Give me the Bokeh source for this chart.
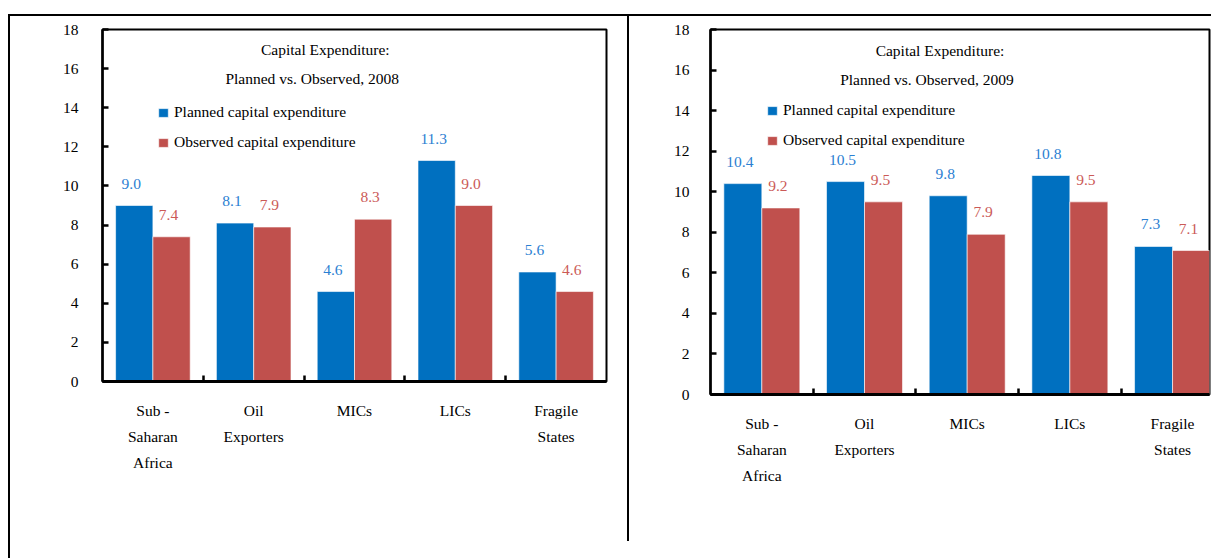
import numpy as np
from bokeh.plotting import figure
from bokeh.models import (ColumnDataSource, Range1d, FixedTicker, Legend, LegendItem,
                          Label, Div)
from bokeh.layouts import column, row
from bokeh.core.properties import value
from bokeh.embed import file_html
from bokeh.resources import INLINE

# ---------------- data ----------------
categories = ["Sub -\nSaharan\nAfrica", "Oil\nExporters", "MICs", "LICs", "Fragile\nStates"]
planned_2008 = [9.0, 8.1, 4.6, 11.3, 5.6]
observed_2008 = [7.4, 7.9, 8.3, 9.0, 4.6]
planned_2009 = [10.4, 10.5, 9.8, 10.8, 7.3]
observed_2009 = [9.2, 9.5, 7.9, 9.5, 7.1]
y_ticks = [0, 2, 4, 6, 8, 10, 12, 14, 16, 18]
series_names = ["Planned capital expenditure", "Observed capital expenditure"]
title_line1 = "Capital Expenditure:"
title_2008 = "Planned vs. Observed, 2008"
title_2009 = "Planned vs. Observed, 2009"

FONT_NAME = "Liberation Serif"
FONT = value(FONT_NAME)
FS = "15.5px"
BLUE = "#0070C0"
RED = "#C0504D"
BLUE_TXT = "#2b80d2"
RED_TXT = "#cb5a57"
BAR_W = 0.37


def make_panel(planned, observed, title2, width, height, mb_left, mb_right, mb_bottom,
               x_end, standoff, legend_loc, t1, t2):
    n = len(categories)
    centers = np.arange(n) + 0.5
    p = figure(width=width, height=height, x_range=Range1d(0, x_end), y_range=Range1d(0, 18),
               output_backend="svg", toolbar_location=None,
               min_border_left=mb_left, min_border_right=mb_right,
               min_border_top=13, min_border_bottom=mb_bottom,
               outline_line_color="black", outline_line_width=2,
               background_fill_color="white", border_fill_color="white")
    p.grid.visible = False

    src = ColumnDataSource(dict(
        xb=centers - BAR_W / 2, xr=centers + BAR_W / 2,
        planned=planned, observed=observed,
        tp=[f"{v:.1f}" for v in planned], to=[f"{v:.1f}" for v in observed]))
    rb = p.vbar(x="xb", top="planned", width=BAR_W, source=src, fill_color=BLUE,
                line_color="white", line_width=0.6)
    rr = p.vbar(x="xr", top="observed", width=BAR_W, source=src, fill_color=RED,
                line_color="white", line_width=0.6)
    p.text(x="xb", y="planned", text="tp", source=src, text_align="center",
           text_baseline="middle", y_offset=-22, x_offset=-3, text_font=FONT,
           text_font_size=FS, text_color=BLUE_TXT)
    p.text(x="xr", y="observed", text="to", source=src, text_align="center",
           text_baseline="middle", y_offset=-22, x_offset=-3, text_font=FONT,
           text_font_size=FS, text_color=RED_TXT)

    # y axis
    ya = p.yaxis[0]
    ya.ticker = FixedTicker(ticks=y_ticks, minor_ticks=[])
    ya.major_tick_in = 6
    ya.major_tick_out = 0
    ya.major_tick_line_width = 2.5
    ya.axis_line_width = 2.5
    ya.major_label_standoff = standoff
    ya.major_label_text_font = FONT_NAME
    ya.major_label_text_font_size = FS
    ya.major_label_text_color = "black"

    # x axis: category labels at centers, boundary ticks as minor ticks
    xa = p.xaxis[0]
    xa.ticker = FixedTicker(ticks=list(centers), minor_ticks=list(np.arange(1, n)))
    xa.major_label_overrides = {float(c): lab for c, lab in zip(centers, categories)}
    xa.major_tick_line_color = None
    xa.minor_tick_in = 6
    xa.minor_tick_out = 0
    xa.minor_tick_line_width = 2.5
    xa.minor_tick_line_color = "black"
    xa.axis_line_width = 3
    xa.major_label_standoff = 14
    xa.major_label_text_font = FONT_NAME
    xa.major_label_text_font_size = FS
    xa.major_label_text_line_height = 1.55
    xa.major_label_text_color = "black"

    # titles
    for (tx, ty), txt in zip([t1, t2], [title_line1, title2]):
        p.add_layout(Label(x=tx, y=ty, text=txt, text_align="center",
                           text_baseline="middle", text_font=FONT_NAME,
                           text_font_size=FS, text_color="black"))

    legend = Legend(items=[LegendItem(label=series_names[0], renderers=[rb]),
                           LegendItem(label=series_names[1], renderers=[rr])],
                    location=legend_loc, orientation="vertical",
                    glyph_width=12, glyph_height=11, label_height=11, spacing=12,
                    padding=0, margin=0, label_standoff=5,
                    border_line_color=None, background_fill_alpha=0,
                    label_text_font=FONT_NAME, label_text_font_size=FS,
                    label_text_color="black")
    p.add_layout(legend)
    return p


p1 = make_panel(planned_2008, observed_2008, title_2008, width=617, height=529, mb_left=92,
                mb_right=21, mb_bottom=164, x_end=5.0, standoff=24,
                legend_loc=(55, 230), t1=(2.21, 16.97), t2=(2.08, 15.49))
p2 = make_panel(planned_2009, observed_2009, title_2009, width=582, height=542, mb_left=81,
                mb_right=2, mb_bottom=164, x_end=4.86, standoff=21,
                legend_loc=(56, 245), t1=(2.235, 16.96), t2=(2.108, 15.53))


def line_div(w, h):
    return Div(text="", width=w, height=h, margin=0, styles={"background-color": "black"})


def spacer(w, h):
    return Div(text="", width=w, height=h, margin=0)


layout = column(
    spacer(1211, 14),
    row(spacer(8, 2), line_div(1203, 2)),
    row(spacer(8, 542), line_div(2, 542), p1, line_div(2, 525), p2),
)

open("out.html", "w").write(file_html(layout, INLINE))
